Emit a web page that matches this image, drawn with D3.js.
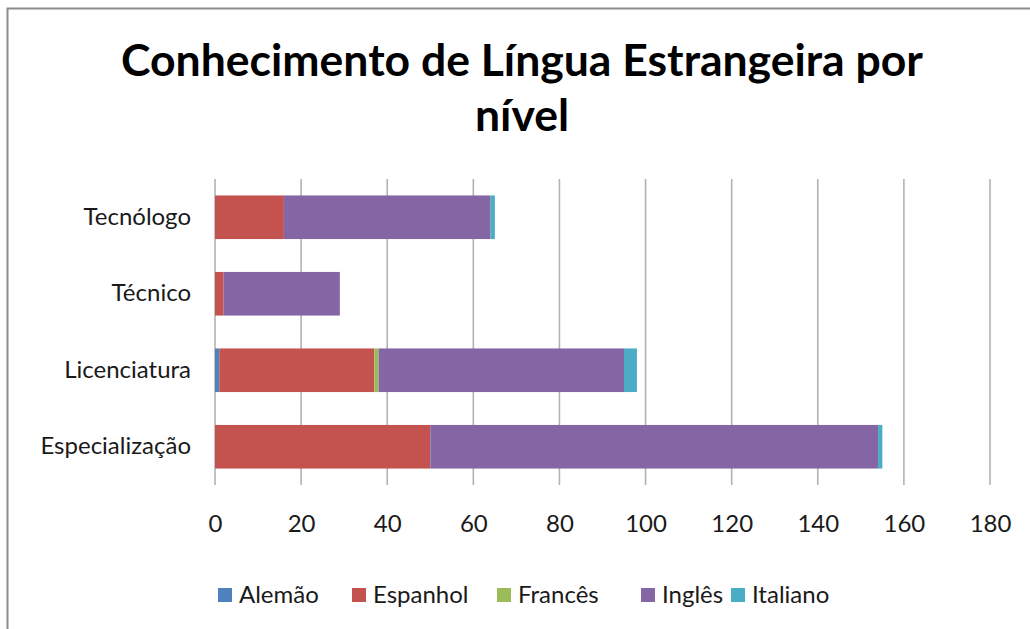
<!DOCTYPE html>
<html>
<head>
<meta charset="utf-8">
<script src="https://cdn.jsdelivr.net/npm/d3@7"></script>
<style>
  body { margin: 0; background: #fff; }
  svg { display: block; font-family: Lato, "Open Sans", sans-serif; }
</style>
</head>
<body>
<div id="chart-area"></div>
<script>
// data
var niveis = ["Tecnólogo", "Técnico", "Licenciatura", "Especialização"]
var linguas = ["Alemão", "Espanhol", "Francês", "Inglês", "Italiano"]
var alemao   = [0, 0, 1, 0]
var espanhol = [16, 2, 36, 50]
var frances  = [0, 0, 1, 0]
var ingles   = [48, 27, 57, 104]
var italiano = [1, 0, 3, 1]
var xTicks = [0, 20, 40, 60, 80, 100, 120, 140, 160, 180]
var cores = ["#4F81BD", "#C4524E", "#9BBB59", "#8466A4", "#4BACC6"]

var series = [alemao, espanhol, frances, ingles, italiano]
var rows = niveis.map(function(n, i) {
    var r = { nivel: n }
    linguas.forEach(function(l, j) { r[l] = series[j][i] })
    return r
})

// margin / dimensions
var margin = { left: 215, right: 40, top: 179, bottom: 144 }
var width = 1030 - margin.left - margin.right,
    height = 629 - margin.top - margin.bottom

var svg = d3.select("#chart-area")
    .append("svg")
        .attr("width", 1030)
        .attr("height", 629)

// frame
svg.append("rect")
    .attr("x", 7.5).attr("y", 8.5)
    .attr("width", 1040).attr("height", 640)
    .attr("fill", "none")
    .attr("stroke", "#8c8c8c")
    .attr("stroke-width", 2)

// title
var title = svg.append("text")
    .attr("text-anchor", "middle")
    .attr("font-size", "44.5px")
    .attr("font-weight", "bold")
    .attr("fill", "#000")
title.append("tspan").attr("x", 522).attr("y", 76).text("Conhecimento de Língua Estrangeira por")
title.append("tspan").attr("x", 522).attr("y", 131).text("nível")

var g = svg.append("g")
    .attr("transform", "translate(" + margin.left + "," + margin.top + ")")

// scales
var x = d3.scaleLinear()
    .domain([0, 180])
    .range([0, 775])
var y = d3.scaleBand()
    .domain(niveis)
    .range([0, height])
    .paddingInner(0.43)
    .paddingOuter(0.215)

// grid lines
g.selectAll(".grid")
    .data(xTicks)
    .enter().append("line")
        .attr("class", "grid")
        .attr("x1", function(d) { return x(d) })
        .attr("x2", function(d) { return x(d) })
        .attr("y1", 0)
        .attr("y2", height)
        .attr("stroke", "#b3b3b3")
        .attr("stroke-width", 1.6)

// stacked bars
var stack = d3.stack().keys(linguas)(rows)
g.selectAll(".serie")
    .data(stack)
    .enter().append("g")
        .attr("class", "serie")
        .attr("fill", function(d, i) { return cores[i] })
    .selectAll("rect")
    .data(function(d) { return d })
    .enter().append("rect")
        .attr("x", function(d) { return x(d[0]) })
        .attr("y", function(d) { return y(d.data.nivel) })
        .attr("width", function(d) { return x(d[1]) - x(d[0]) })
        .attr("height", y.bandwidth())

// X axis
var xAxisCall = d3.axisBottom(x)
    .tickValues(xTicks)
    .tickSize(0)
    .tickPadding(30)
g.append("g")
    .attr("class", "x axis")
    .attr("transform", "translate(0," + height + ")")
    .call(xAxisCall)
    .call(function(a) { a.select(".domain").remove() })
    .selectAll("text")
        .attr("font-size", "24px")
        .attr("font-family", "Lato, sans-serif")
        .attr("fill", "#1a1a1a")

// Y axis
var yAxisCall = d3.axisLeft(y).tickSize(0).tickPadding(24)
g.append("g")
    .attr("class", "y axis")
    .call(yAxisCall)
    .call(function(a) { a.select(".domain").remove() })
    .selectAll("text")
        .attr("font-size", "24px")
        .attr("font-family", "Lato, sans-serif")
        .attr("fill", "#1a1a1a")

// legend
var legX = [218, 352, 497, 641, 731]
var leg = svg.selectAll(".leg")
    .data(linguas)
    .enter().append("g")
        .attr("class", "leg")
        .attr("transform", function(d, i) { return "translate(" + legX[i] + ",595)" })
leg.append("rect")
    .attr("x", 0).attr("y", -7)
    .attr("width", 14).attr("height", 14)
    .attr("fill", function(d, i) { return cores[i] })
leg.append("text")
    .attr("x", 21)
    .attr("dy", "0.35em")
    .attr("font-size", "24px")
    .attr("fill", "#1a1a1a")
    .text(function(d) { return d })
</script>
</body>
</html>
